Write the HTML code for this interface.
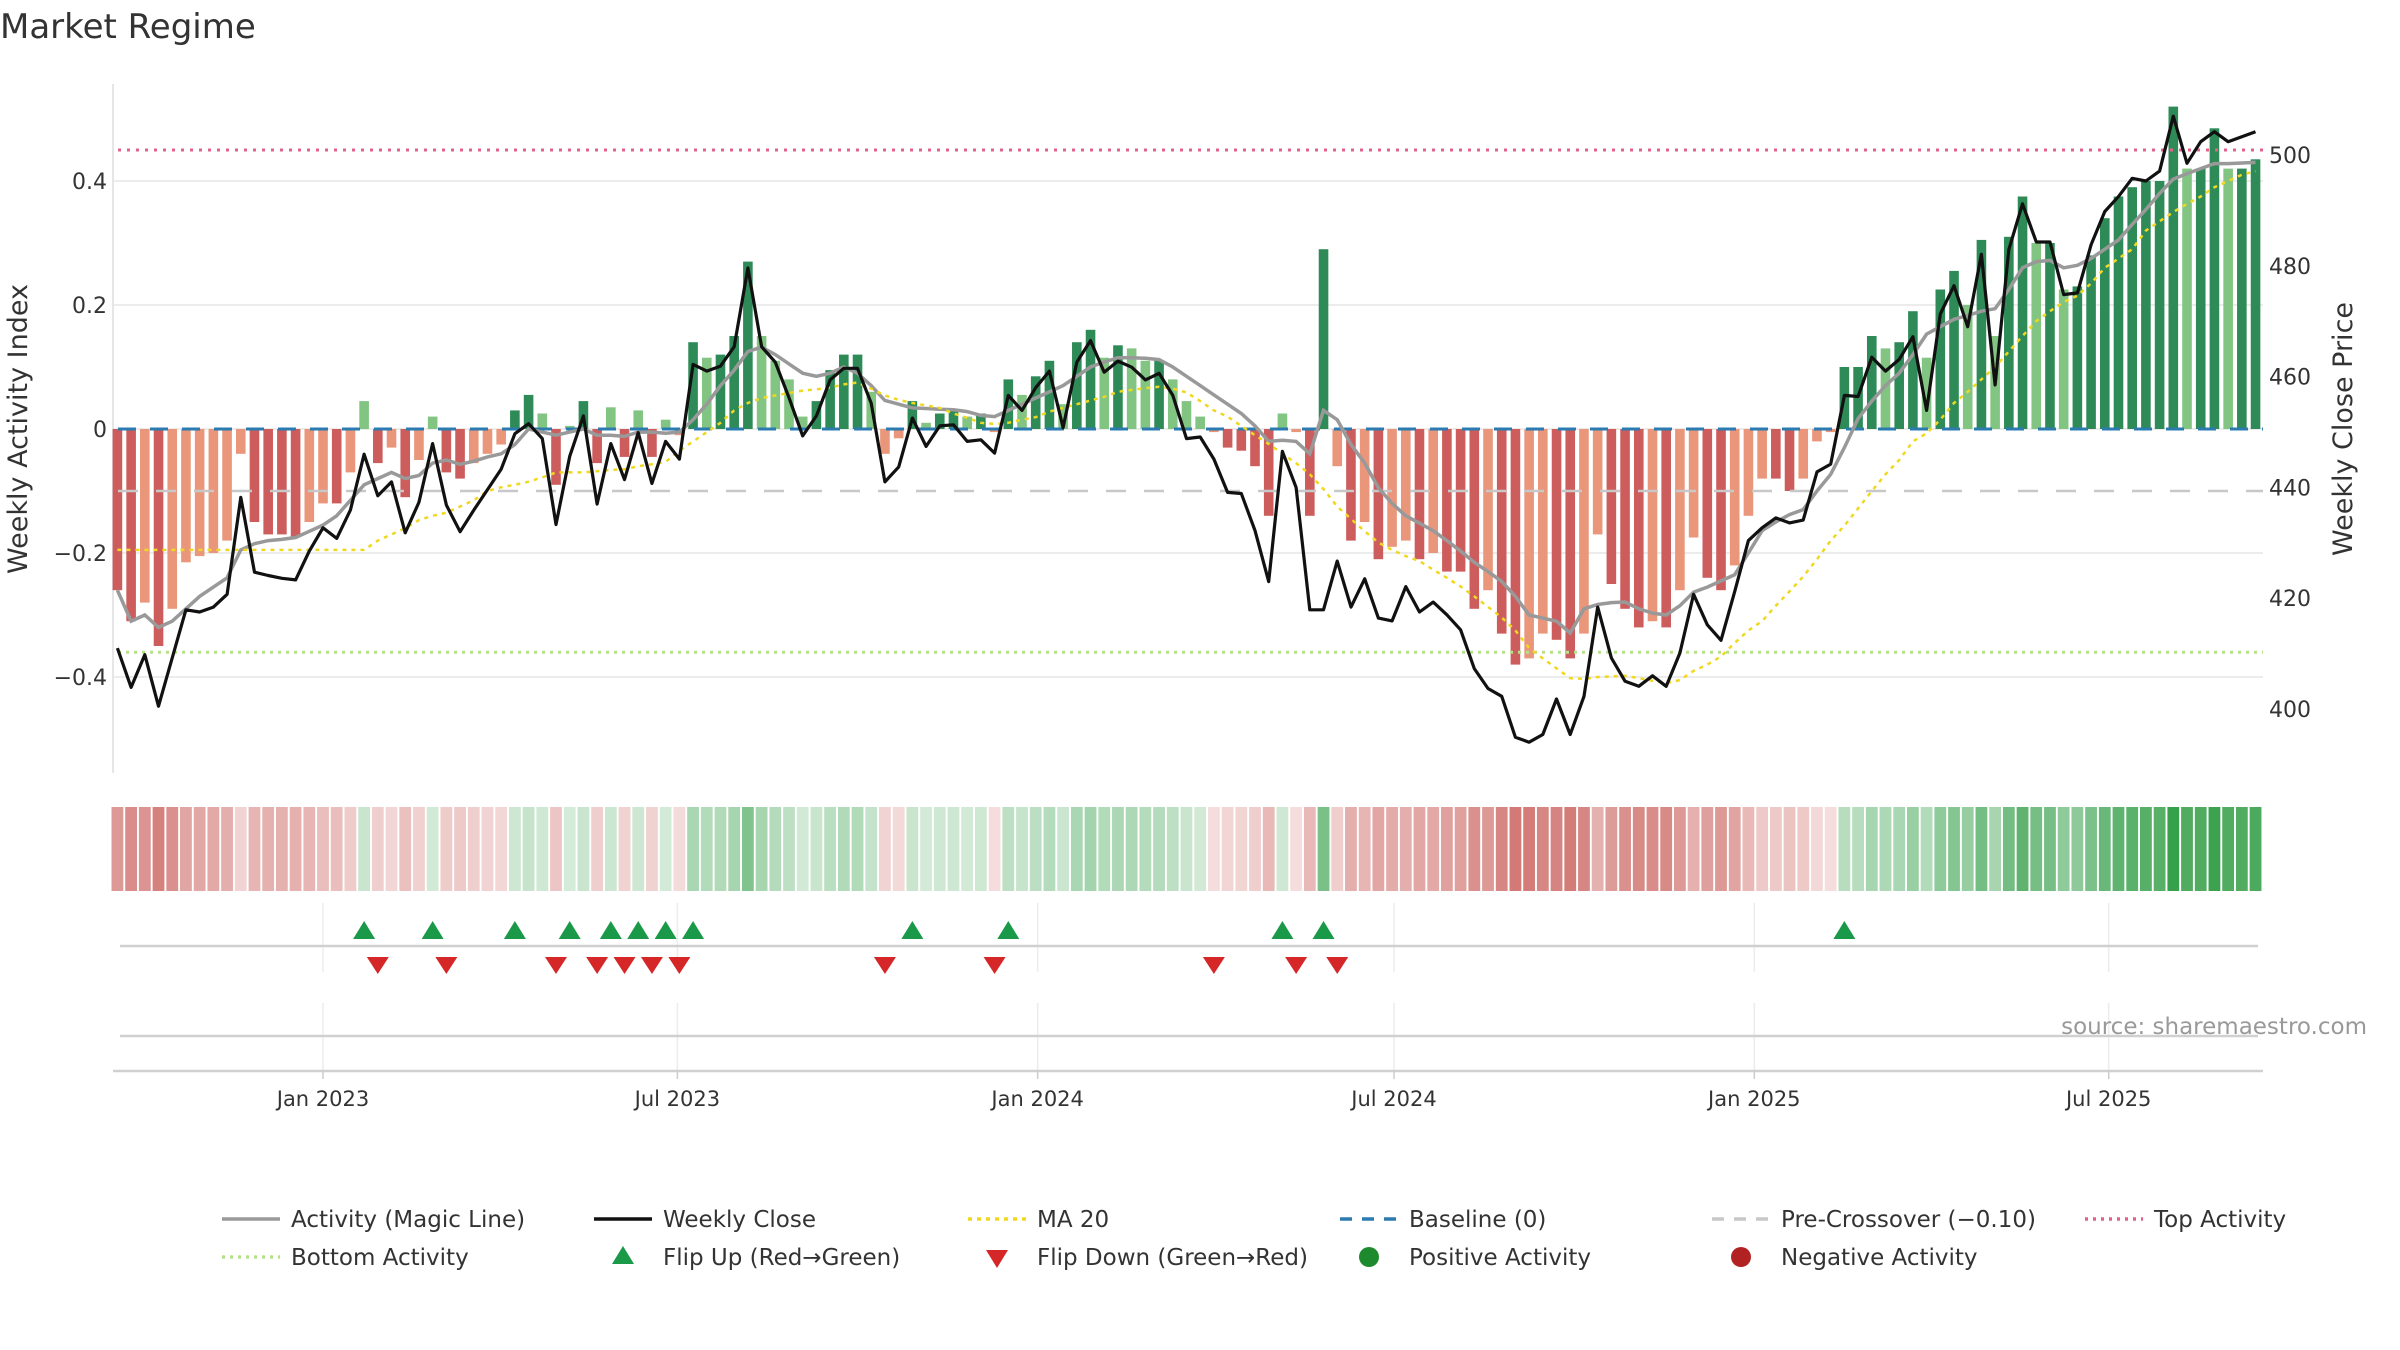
<!DOCTYPE html>
<html><head><meta charset="utf-8"><title>Market Regime</title>
<style>
html,body{margin:0;padding:0;background:#fff;}
svg{display:block;font-family:"DejaVu Sans","Liberation Sans",sans-serif;}
</style></head>
<body>
<svg id="chart" width="2400" height="1350" viewBox="0 0 2400 1350" xmlns="http://www.w3.org/2000/svg">
<text x="0" y="38" font-size="34" fill="#333">Market Regime</text>
<g id="grid"></g>
<g id="bars"></g>
<g id="lines"></g>
<g id="heat"></g>
<g id="flips"></g>
<g id="axes"></g>
<text transform="translate(27,429) rotate(-90)" text-anchor="middle" font-size="27" fill="#333">Weekly Activity Index</text>
<text transform="translate(2352,429) rotate(-90)" text-anchor="middle" font-size="27" fill="#333">Weekly Close Price</text>
<text x="2367" y="1034" text-anchor="end" font-size="23" fill="#999">source: sharemaestro.com</text>
<g id="legend"></g>
</svg>
<script>
const startDate = "2022-09-18";
const activity = [-0.26,-0.31,-0.28,-0.35,-0.29,-0.215,-0.205,-0.20,-0.18,-0.04,-0.15,-0.17,-0.17,-0.175,-0.15,-0.12,-0.12,-0.07,0.045,-0.055,-0.03,-0.11,-0.05,0.02,-0.07,-0.08,-0.055,-0.04,-0.025,0.03,0.055,0.025,-0.09,0.005,0.045,-0.055,0.035,-0.045,0.03,-0.045,0.015,-0.01,0.14,0.115,0.12,0.15,0.27,0.15,0.11,0.08,0.02,0.045,0.095,0.12,0.12,0.06,-0.04,-0.015,0.045,0.01,0.025,0.03,0.02,0.025,-0.005,0.08,0.055,0.085,0.11,0.04,0.14,0.16,0.115,0.135,0.13,0.11,0.11,0.08,0.045,0.02,-0.005,-0.03,-0.035,-0.06,-0.14,0.025,-0.005,-0.14,0.29,-0.06,-0.18,-0.15,-0.21,-0.19,-0.18,-0.21,-0.20,-0.23,-0.23,-0.29,-0.26,-0.33,-0.38,-0.37,-0.33,-0.34,-0.37,-0.33,-0.17,-0.25,-0.29,-0.32,-0.31,-0.32,-0.26,-0.175,-0.24,-0.26,-0.22,-0.14,-0.08,-0.08,-0.1,-0.08,-0.02,-0.005,0.10,0.10,0.15,0.13,0.14,0.19,0.115,0.225,0.255,0.2,0.305,0.15,0.31,0.375,0.30,0.30,0.225,0.23,0.28,0.34,0.375,0.39,0.40,0.40,0.52,0.42,0.42,0.485,0.42,0.42,0.435];
const magic = [-0.26,-0.31,-0.30,-0.32,-0.31,-0.29,-0.27,-0.255,-0.24,-0.195,-0.185,-0.18,-0.178,-0.175,-0.165,-0.155,-0.14,-0.115,-0.09,-0.08,-0.07,-0.08,-0.075,-0.055,-0.05,-0.057,-0.052,-0.045,-0.04,-0.025,0.0,-0.005,-0.01,-0.005,0.0,-0.01,-0.01,-0.012,-0.005,-0.005,-0.007,-0.005,0.015,0.04,0.07,0.095,0.125,0.132,0.12,0.105,0.09,0.085,0.09,0.1,0.09,0.07,0.046,0.04,0.034,0.033,0.032,0.031,0.028,0.022,0.02,0.03,0.04,0.05,0.06,0.07,0.085,0.1,0.108,0.115,0.115,0.114,0.112,0.1,0.085,0.07,0.055,0.04,0.025,0.005,-0.02,-0.018,-0.02,-0.04,0.03,0.015,-0.025,-0.055,-0.095,-0.12,-0.14,-0.152,-0.164,-0.18,-0.197,-0.215,-0.23,-0.246,-0.27,-0.30,-0.305,-0.31,-0.329,-0.29,-0.283,-0.28,-0.279,-0.29,-0.297,-0.3,-0.285,-0.263,-0.255,-0.245,-0.235,-0.2,-0.164,-0.15,-0.138,-0.13,-0.1,-0.073,-0.03,0.017,0.045,0.07,0.09,0.12,0.153,0.165,0.177,0.183,0.19,0.194,0.225,0.26,0.27,0.272,0.26,0.264,0.275,0.29,0.305,0.33,0.354,0.38,0.403,0.412,0.42,0.428,0.428,0.429,0.43];
const ma20 = [-0.195,-0.195,-0.195,-0.195,-0.195,-0.195,-0.195,-0.195,-0.195,-0.195,-0.195,-0.195,-0.195,-0.195,-0.195,-0.195,-0.195,-0.195,-0.195,-0.18,-0.17,-0.16,-0.147,-0.14,-0.135,-0.125,-0.115,-0.1,-0.094,-0.09,-0.085,-0.078,-0.07,-0.07,-0.07,-0.068,-0.066,-0.065,-0.06,-0.057,-0.053,-0.035,-0.02,-0.005,0.01,0.03,0.042,0.05,0.054,0.058,0.062,0.064,0.067,0.072,0.075,0.065,0.054,0.047,0.042,0.038,0.034,0.025,0.018,0.01,0.008,0.01,0.015,0.019,0.028,0.034,0.04,0.046,0.052,0.06,0.063,0.066,0.068,0.065,0.059,0.045,0.03,0.02,0.005,-0.01,-0.024,-0.04,-0.055,-0.073,-0.097,-0.125,-0.145,-0.165,-0.183,-0.195,-0.205,-0.213,-0.227,-0.24,-0.254,-0.27,-0.287,-0.304,-0.325,-0.353,-0.37,-0.386,-0.402,-0.403,-0.4,-0.399,-0.398,-0.402,-0.406,-0.41,-0.405,-0.39,-0.38,-0.367,-0.345,-0.325,-0.31,-0.285,-0.262,-0.238,-0.21,-0.18,-0.156,-0.128,-0.1,-0.073,-0.05,-0.02,-0.007,0.015,0.042,0.06,0.08,0.1,0.125,0.15,0.174,0.19,0.205,0.215,0.235,0.26,0.275,0.29,0.32,0.335,0.35,0.363,0.375,0.39,0.4,0.41,0.416];
const closePrice = [411.0,403.9,409.8,400.5,409.2,417.9,417.5,418.4,420.7,438.2,424.7,424.1,423.6,423.3,428.5,432.7,430.8,435.9,446.0,438.5,441.0,431.8,437.3,447.9,436.8,432.0,435.9,439.6,443.3,449.7,451.5,448.8,433.3,445.6,452.9,437.0,447.9,441.4,449.9,440.7,448.3,445.1,462.2,461.0,461.9,465.4,479.6,465.4,462.6,456.2,449.3,452.9,459.4,461.5,461.5,455.2,441.0,443.7,452.5,447.4,451.1,451.3,448.3,448.6,446.2,456.6,453.9,458.0,461.0,450.8,462.6,466.5,460.8,462.8,461.7,459.4,460.6,456.6,448.8,449.1,445.1,439.1,438.9,432.2,423.0,446.5,440.0,417.9,417.9,426.7,418.4,423.5,416.4,415.9,422.1,417.5,419.3,417.0,414.3,407.3,403.7,402.3,394.9,394.0,395.4,401.8,395.4,402.3,418.4,409.2,405.0,404.1,406.0,404.1,410.1,420.7,415.2,412.4,421.2,430.4,432.7,434.5,433.6,434.1,442.8,444.2,456.6,456.4,463.5,461.0,463.1,467.2,453.9,471.3,476.4,469.0,482.1,458.5,482.9,491.2,484.3,484.3,474.8,475.1,483.8,489.8,492.5,495.8,495.3,497.1,507.0,498.5,502.4,504.2,502.4,503.3,504.2];
const yTicks = [0.4,0.2,0,-0.2,-0.4];
const yTickLabels = ["0.4","0.2","0","\u22120.2","\u22120.4"];
const y2Ticks = [500,480,460,440,420,400];
const xTickDates = ["2023-01-01","2023-07-01","2024-01-01","2024-07-01","2025-01-01","2025-07-01"];
const xTickLabels = ["Jan 2023","Jul 2023","Jan 2024","Jul 2024","Jan 2025","Jul 2025"];
const levelTop = 0.45, levelBottom = -0.36, levelPre = -0.10, levelBase = 0;

const NS = "http://www.w3.org/2000/svg";
const X0 = 113, X1 = 2263;
const dayMs = 86400000;
const ref = Date.UTC(2023,0,1);
function parseD(s){const p=s.split("-");return Date.UTC(+p[0],+p[1]-1,+p[2]);}
function xDate(ms){return 323 + (ms-ref)/dayMs*1.958;}
function xIdx(i){return xDate(parseD(startDate)+i*7*dayMs);}
function yL(v){return 429 - v*620;}
function yR(p){return 155 + (500-p)*5.54;}
function mk(tag,attrs,parent){const e=document.createElementNS(NS,tag);for(const k in attrs)e.setAttribute(k,attrs[k]);parent.appendChild(e);return e;}
const G = id=>document.getElementById(id);

const grid=G("grid");
yTicks.forEach(v=>{const l=mk("line",{x1:X0,x2:X1,y1:yL(v),y2:yL(v),stroke:"#ececec","stroke-width":2},grid);

});
const axL=mk("line",{x1:X0,x2:X0,y1:84,y2:773,stroke:"#e6e6e6","stroke-width":2},grid);


xTickDates.forEach(d=>{const x=xDate(parseD(d));
[[903,972],[1003,1071]].forEach(r=>{const l=mk("line",{x1:x,x2:x,y1:r[0],y2:r[1],stroke:"#ececec","stroke-width":1.5},grid);

});});

const bars=G("bars");
const bw=9.6;
activity.forEach((v,i)=>{const prev=i>0?Math.abs(activity[i-1]):0;const strong=Math.abs(v)>=prev;
const col=v>=0?(strong?"#2e8b57":"#82c482"):(strong?"#cd5c5c":"#e9967a");
const x=xIdx(i);const y=Math.min(yL(v),yL(0));const h=Math.abs(yL(v)-yL(0));
const r=mk("rect",{x:x-bw/2,y:y,width:bw,height:Math.max(h,0.5),fill:col},bars);

});

const lines=G("lines");
function hline(v,col,dash,w,name){const l=mk("line",{x1:X0+5,x2:X1,y1:yL(v),y2:yL(v),stroke:col,"stroke-width":w,"stroke-dasharray":dash},lines);

}
hline(levelTop,"#e0648a","3 6",3,"top-activity-line");
hline(levelBottom,"#b8e08a","3 5",3,"bottom-activity-line");
hline(levelPre,"#c8c8c8","20 18",2.5,"pre-crossover-line");
hline(levelBase,"#2b7bb0","18 14",3,"baseline-line");
function path(arr,fy){return arr.map((v,i)=>(i?"L":"M")+xIdx(i).toFixed(1)+","+fy(v).toFixed(1)).join(" ");}
const pm=mk("path",{d:path(magic,yL),fill:"none",stroke:"#999","stroke-width":3.5},lines);


const pma=mk("path",{d:path(ma20,yL),fill:"none",stroke:"#f0d820","stroke-width":2.5,"stroke-dasharray":"4 5"},lines);


const pc=mk("path",{d:path(closePrice,yR),fill:"none",stroke:"#111","stroke-width":3.2,"stroke-linejoin":"round"},lines);



const heat=G("heat");
activity.forEach((v,i)=>{const a=Math.min(1,0.2+Math.abs(v)*1.6);
const base=v>=0?[55,160,75]:[200,90,85];
const c=base.map(b=>Math.round(255-(255-b)*a));
const x=xIdx(i);
const r=mk("rect",{x:x-5.9,y:807,width:11.8,height:84,fill:"rgb("+c.join(",")+")"},heat);

});

const flips=G("flips");
const fl=mk("line",{x1:120,x2:2258,y1:946,y2:946,stroke:"#d0d0d0","stroke-width":2.5},flips);


for(let i=1;i<activity.length;i++){const x=xIdx(i);
if(activity[i]>0&&activity[i-1]<=0){const t=mk("polygon",{points:`${x-11},939 ${x+11},939 ${x},921`,fill:"#1a9a48"},flips);

}
if(activity[i]<=0&&activity[i-1]>0){const t=mk("polygon",{points:`${x-11},957 ${x+11},957 ${x},974`,fill:"#d62728"},flips);

}}
const l3=mk("line",{x1:120,x2:2258,y1:1036,y2:1036,stroke:"#d0d0d0","stroke-width":2.5},flips);



const axes=G("axes");
const bx=mk("line",{x1:X0,x2:X1,y1:1071,y2:1071,stroke:"#d0d0d0","stroke-width":2.5},axes);


yTicks.forEach((v,k)=>{const t=mk("text",{x:107,y:yL(v)+8,"text-anchor":"end","font-size":22,fill:"#333"},axes);t.textContent=yTickLabels[k];

});
y2Ticks.forEach(p=>{const t=mk("text",{x:2269,y:yR(p)+8,"font-size":22,fill:"#333"},axes);t.textContent=String(p);

});
xTickDates.forEach((d,k)=>{const x=xDate(parseD(d));
const tk=mk("line",{x1:x,x2:x,y1:1071,y2:1079,stroke:"#ccc","stroke-width":1.5},axes);


const t=mk("text",{x:x,y:1106,"text-anchor":"middle","font-size":21,fill:"#333"},axes);t.textContent=xTickLabels[k];

});

const leg=G("legend");
const items=[
[222,1219,"line","#999","","Activity (Magic Line)"],[594,1219,"line","#111","","Weekly Close"],[968,1219,"line","#f0d820","4 5","MA 20"],[1340,1219,"line","#2b7bb0","12 10","Baseline (0)"],[1712,1219,"line","#c8c8c8","12 10","Pre-Crossover (\u22120.10)"],[2085,1219,"line","#e0648a","3 5","Top Activity"],
[222,1257,"line","#b8e08a","3 5","Bottom Activity"],[594,1257,"up","#1a9a48","","Flip Up (Red\u2192Green)"],[968,1257,"down","#d62728","","Flip Down (Green\u2192Red)"],[1340,1257,"dot","#1e8a2e","","Positive Activity"],[1712,1257,"dot","#b22222","","Negative Activity"]];
items.forEach(it=>{const [x,y,kind,col,dash,label]=it;
const g=mk("g",{},leg);


if(kind==="line")mk("line",{x1:x,x2:x+58,y1:y,y2:y,stroke:col,"stroke-width":3.5,"stroke-dasharray":dash},g);
if(kind==="up")mk("polygon",{points:`${x+18},${y+7} ${x+40},${y+7} ${x+29},${y-11}`,fill:col},g);
if(kind==="down")mk("polygon",{points:`${x+18},${y-7} ${x+40},${y-7} ${x+29},${y+11}`,fill:col},g);
if(kind==="dot")mk("circle",{cx:x+29,cy:y,r:10,fill:col},g);
const t=mk("text",{x:x+69,y:y+8,"font-size":23,fill:"#333"},g);t.textContent=label;});
</script>
</body></html>
